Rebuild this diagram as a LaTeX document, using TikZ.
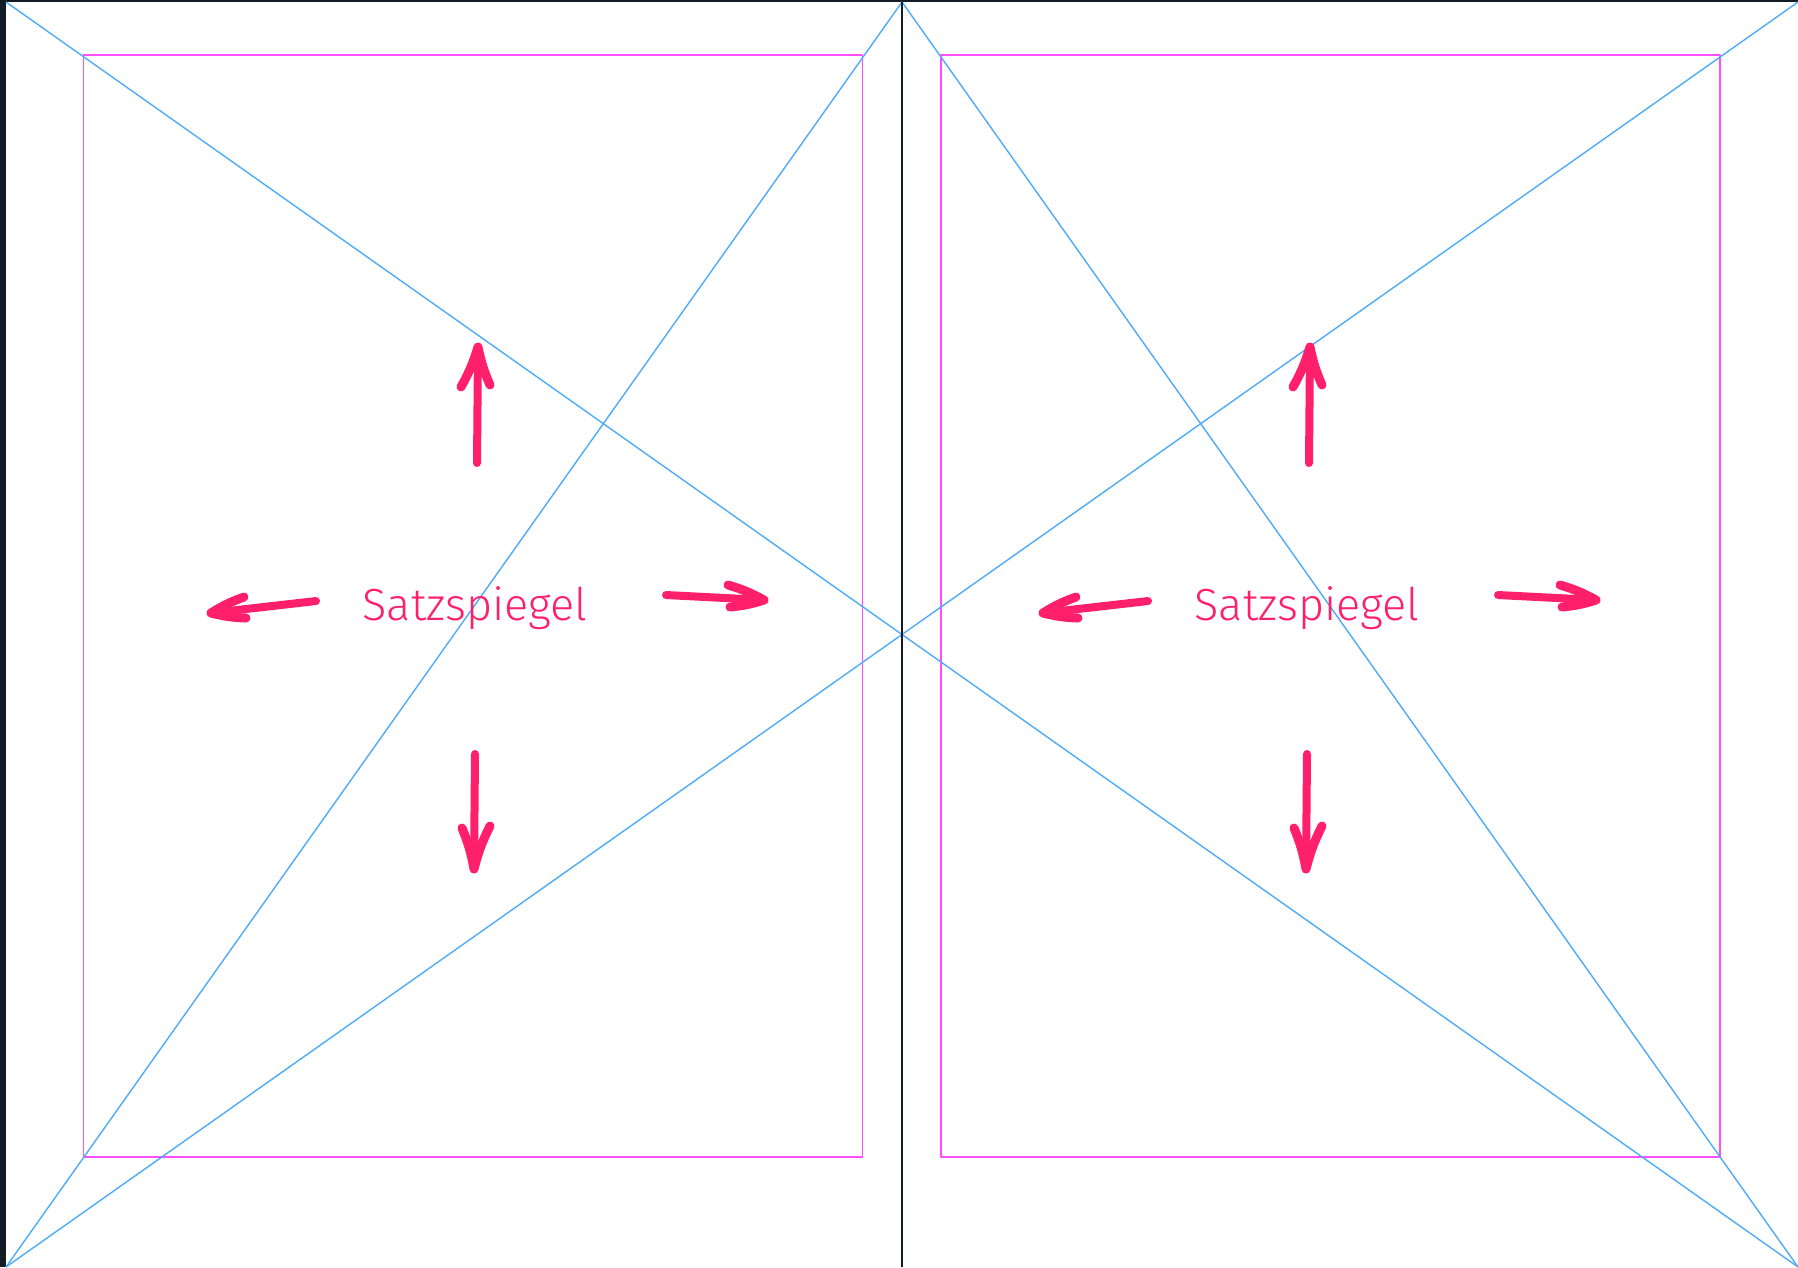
\documentclass[tikz,border=0pt]{standalone}
\usepackage{fontspec}
\usepackage{xcolor}
\usepackage{tikz}
\usetikzlibrary{calc}
\newfontfamily\handfont{Fira Sans Light}
\definecolor{guideblue}{HTML}{4DABF7}
\definecolor{marginpink}{HTML}{FF4DFF}
\definecolor{notered}{HTML}{FF1F6B}
\definecolor{darkframe}{HTML}{121B26}
\tikzset{
  guide/.style={guideblue,line width=1.4pt},
  typearea/.style={marginpink,line width=1.6pt},
  handarrow/.style={notered,line width=8pt,line cap=round,line join=round},
  handhead/.style={notered,line width=9pt,line cap=round,line join=round},
  handtext/.style={notered,inner sep=0pt,anchor=base,font=\handfont\fontsize{45}{48}\selectfont},
}

\begin{document}
\begin{tikzpicture}[x=1pt, y=-1pt, line join=round]
  \useasboundingbox (0,0) rectangle (1798,1267);
  \fill[darkframe] (0,0) rectangle (6,1267);
  \fill[darkframe] (0,0) rectangle (1798,2);
  % page corners
  \coordinate (TL) at (6,2);
  \coordinate (TM) at (902,2);
  \coordinate (TR) at (1798,2);
  \coordinate (BL) at (6,1267);
  \coordinate (BM) at (902,1267);
  \coordinate (BR) at (1798,1267);
  % type areas
  \coordinate (LA) at (83.5,55);
  \coordinate (LB) at (862.5,1157);
  \coordinate (RA) at (941,55);
  \coordinate (RB) at (1720,1157);
  \draw[typearea] (LA) rectangle (LB);
  \draw[typearea] (RA) rectangle (RB);
  \draw[guide] (TL) -- (BR);
  \draw[guide] (BL) -- (TR);
  \draw[guide] (TM) -- (BL);
  \draw[guide] (TM) -- (BR);
  \draw[darkframe,line width=1.2pt] (TM) -- (BM);
  % left page arrows
  \coordinate (upLtail) at (477,463);
  \coordinate (upLtip) at (478,347);
  \coordinate (upLb1) at (461,387);
  \coordinate (upLb2) at (490,385);
  \coordinate (dnLtail) at (475,754);
  \coordinate (dnLtip) at (474,869);
  \coordinate (dnLb1) at (462,828);
  \coordinate (dnLb2) at (490,826);
  \coordinate (ltLtail) at (316,601);
  \coordinate (ltLtip) at (211,613);
  \coordinate (ltLb1) at (244,597);
  \coordinate (ltLb2) at (246,618);
  \coordinate (rtLtail) at (666,595);
  \coordinate (rtLtip) at (764,600);
  \coordinate (rtLb1) at (728,585);
  \coordinate (rtLb2) at (730,607);
  % right page arrows
  \coordinate (upRtail) at (1309,463);
  \coordinate (upRtip) at (1310,347);
  \coordinate (upRb1) at (1293,387);
  \coordinate (upRb2) at (1322,385);
  \coordinate (dnRtail) at (1307,754);
  \coordinate (dnRtip) at (1306,869);
  \coordinate (dnRb1) at (1294,828);
  \coordinate (dnRb2) at (1322,826);
  \coordinate (ltRtail) at (1148,601);
  \coordinate (ltRtip) at (1043,613);
  \coordinate (ltRb1) at (1076,597);
  \coordinate (ltRb2) at (1078,618);
  \coordinate (rtRtail) at (1498,595);
  \coordinate (rtRtip) at (1596,600);
  \coordinate (rtRb1) at (1560,585);
  \coordinate (rtRb2) at (1562,607);
  \draw[handarrow] (upLtail) -- (upLtip);
  \draw[handhead] (upLb1) to[bend right=6] (upLtip) to[bend right=6] (upLb2);
  \draw[handarrow] (dnLtail) -- (dnLtip);
  \draw[handhead] (dnLb1) to[bend left=6] (dnLtip) to[bend left=6] (dnLb2);
  \draw[handarrow] (ltLtail) -- (ltLtip);
  \draw[handhead] (ltLb1) to[bend right=6] (ltLtip) to[bend right=6] (ltLb2);
  \draw[handarrow] (rtLtail) -- (rtLtip);
  \draw[handhead] (rtLb1) to[bend left=6] (rtLtip) to[bend left=6] (rtLb2);
  \draw[handarrow] (upRtail) -- (upRtip);
  \draw[handhead] (upRb1) to[bend right=6] (upRtip) to[bend right=6] (upRb2);
  \draw[handarrow] (dnRtail) -- (dnRtip);
  \draw[handhead] (dnRb1) to[bend left=6] (dnRtip) to[bend left=6] (dnRb2);
  \draw[handarrow] (ltRtail) -- (ltRtip);
  \draw[handhead] (ltRb1) to[bend right=6] (ltRtip) to[bend right=6] (ltRb2);
  \draw[handarrow] (rtRtail) -- (rtRtip);
  \draw[handhead] (rtRb1) to[bend left=6] (rtRtip) to[bend left=6] (rtRb2);
  % labels
  \node[handtext] (satzL) at (475,620) {Satzspiegel};
  \node[handtext] (satzR) at (1307,620) {Satzspiegel};
\end{tikzpicture}
\end{document}
